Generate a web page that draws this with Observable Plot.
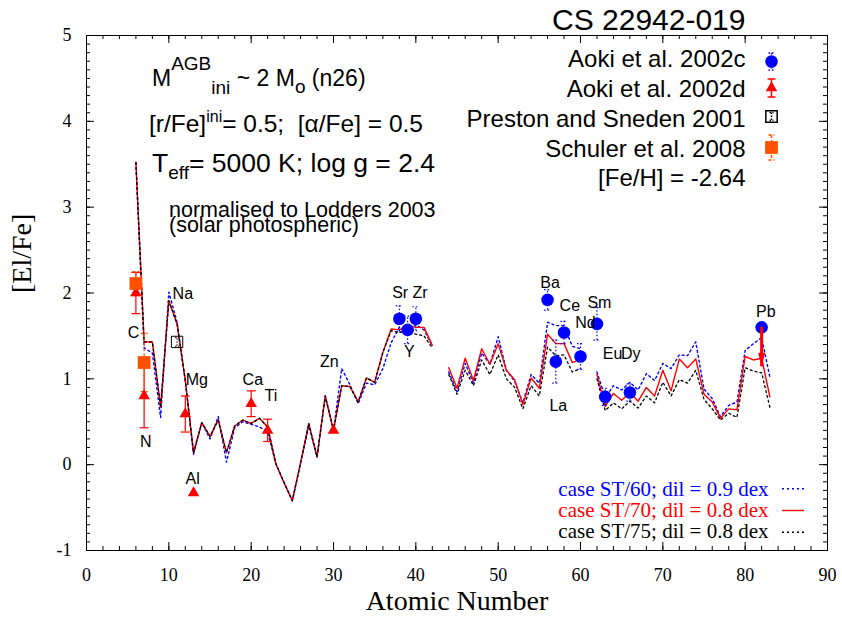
<!DOCTYPE html>
<html>
<head>
<meta charset="utf-8">
<script src="https://cdn.jsdelivr.net/npm/d3@7"></script>
<script src="https://cdn.jsdelivr.net/npm/@observablehq/plot@0.6"></script>
<style>
html,body{margin:0;padding:0;background:#fff;}
#chart svg{display:block;}
</style>
</head>
<body>
<div id="chart"></div>
<script>
// ---------------- data ----------------
const atomicNumber = [6,7,8,9,10,11,12,13,14,15,16,17,18,19,20,21,22,23,24,25,26,27,28,29,30,31,32,33,34,35,36,37,38,39,40,41,42,43,44,45,46,47,48,49,50,51,52,53,54,55,56,57,58,59,60,61,62,63,64,65,66,67,68,69,70,71,72,73,74,75,76,77,78,79,80,81,82,83];

// case ST/60; dil = 0.9 dex (blue dotted)
const caseST60 = [3.52,1.36,1.30,0.55,2.01,1.66,0.98,0.12,0.49,0.30,0.56,0.03,0.43,0.50,0.47,0.44,0.38,0.01,-0.21,-0.42,0.02,0.45,0.09,0.80,0.40,1.12,0.93,0.71,0.95,0.93,1.12,1.42,1.60,1.55,1.63,1.57,1.38,null,1.08,0.85,1.18,0.95,1.30,1.17,1.49,1.10,0.97,0.72,1.05,0.95,1.66,1.62,1.62,1.38,1.35,null,1.08,0.78,0.92,0.87,0.96,0.87,1.06,0.98,1.18,1.12,1.28,1.27,1.43,0.88,0.77,0.56,0.69,0.73,1.33,1.41,1.48,1.02];
// case ST/70; dil = 0.8 dex (red solid)
const caseST70 = [3.52,1.43,1.43,0.67,1.91,1.64,0.98,0.14,0.49,0.33,0.52,0.14,0.45,0.52,0.48,0.54,0.44,0.01,-0.21,-0.42,0.02,0.48,0.09,0.80,0.40,0.92,0.91,0.73,1.01,0.96,1.31,1.58,1.57,1.62,1.60,1.60,1.39,null,1.13,0.89,1.24,0.98,1.35,1.17,1.41,1.10,0.99,0.70,1.01,0.89,1.52,1.41,1.41,1.19,1.23,null,1.05,0.68,0.83,0.75,0.84,0.74,0.90,0.80,1.10,0.86,1.23,1.13,1.23,0.82,0.73,0.54,0.65,0.64,1.26,1.22,1.24,0.79];
// case ST/75; dil = 0.8 dex (black dotted)
const caseST75 = [3.52,1.43,1.43,0.67,1.91,1.64,0.98,0.14,0.49,0.33,0.52,0.14,0.45,0.52,0.48,0.54,0.44,0.01,-0.21,-0.42,0.02,0.48,0.09,0.80,0.40,0.92,0.91,0.73,1.01,0.96,1.31,1.56,1.54,1.55,1.52,1.50,1.36,null,1.05,0.82,1.10,0.92,1.22,1.05,1.28,1.00,0.90,0.65,0.92,0.80,1.37,1.27,1.28,1.08,1.12,null,1.00,0.63,0.72,0.65,0.74,0.66,0.80,0.72,0.96,0.80,0.99,0.95,1.10,0.76,0.65,0.52,0.60,0.55,1.13,1.09,1.07,0.67];

// Aoki et al. 2002c (blue circles)
const aoki2002cZ   = [38,39,40,56,57,58,60,62,63,66,82];
const aoki2002cVal = [1.70,1.57,1.70,1.92,1.20,1.54,1.26,1.64,0.79,0.84,1.60];
const aoki2002cErr = [0.15,0.16,0.14,0.12,0.25,0.13,0.15,0.19,0.10,0.10,0];

// Aoki et al. 2002d (red triangles)
const aoki2002dZ   = [6,7,12,13,20,22,30];
const aoki2002dVal = [2.00,0.80,0.59,-0.33,0.71,0.40,0.40];
const aoki2002dErr = [0.24,0.37,0.21,0,0.15,0.13,0];
// Pb upper limit (Aoki et al. 2002d)
const pbLimitZ = [82];
const pbLimitFrom = [1.60];
const pbLimitTo = [1.14];

// Preston and Sneden 2001 (open square)
const prestonZ = [11];
const prestonVal = [1.43];
const prestonErr = [0.05];

// Schuler et al. 2008 (orange squares)
const schulerZ = [6,7];
const schulerVal = [2.11,1.19];
const schulerErr = [0.14,0.34];

// element labels (anchor in data units)
const labelText = ["C","N","Na","Mg","Al","Ca","Ti","Zn","Sr","Zr","Y","Ba","Ce","Nd","Sm","La","Eu","Dy","Pb"];
const labelZ    = [5.7,7.2,11.7,13.4,12.9,20.2,22.4,29.5,38.1,40.5,39.2,56.3,58.7,60.6,62.3,57.3,63.9,66.1,82.5];
const labelVal  = [1.54,0.26,1.99,0.99,-0.17,0.99,0.80,1.20,2.00,2.00,1.31,2.12,1.85,1.65,1.88,0.69,1.29,1.29,1.78];

// axis ticks
const xTicks = [0,10,20,30,40,50,60,70,80,90];
const xMinor = d3.range(0, 91, 2);
const yTicks = [-1,0,1,2,3,4,5];
const yMinor = d3.range(-1, 5.001, 0.1).map(v => +v.toFixed(1));

const legendNames = ["Aoki et al. 2002c","Aoki et al. 2002d","Preston and Sneden 2001","Schuler et al. 2008","[Fe/H] = -2.64"];
const caseNames = ["case ST/60; dil = 0.9 dex","case ST/70; dil = 0.8 dex","case ST/75; dil = 0.8 dex"];

// ---------------- build ----------------
const sans = "'Liberation Sans', Arial, Helvetica, sans-serif";
const serif = "'Liberation Serif', 'Times New Roman', Times, serif";
const BLUE = "#0000ff", RED = "#ff0000", ORANGE = "#ff5000";

const W = 842, H = 620, mL = 86, mR = 15, mT = 35, mB = 70;
const innerW = W - mL - mR, innerH = H - mT - mB;

const rows = arr => atomicNumber.map((z, i) => ({z, v: arr[i]}));
const pts = (zs, vs, es) => zs.map((z, i) => ({z, v: vs[i], e: es ? es[i] : 0}));

const aokiC = pts(aoki2002cZ, aoki2002cVal, aoki2002cErr);
const aokiD = pts(aoki2002dZ, aoki2002dVal, aoki2002dErr);
const preston = pts(prestonZ, prestonVal, prestonErr);
const schuler = pts(schulerZ, schulerVal, schulerErr);
const pbLimit = pbLimitZ.map((z, i) => ({z, from: pbLimitFrom[i], to: pbLimitTo[i]}));
const labels = labelText.map((t, i) => ({t, z: labelZ[i], v: labelVal[i]}));

const capSym = {draw(ctx, size) { const w = Math.sqrt(size / Math.PI); ctx.moveTo(-w, 0); ctx.lineTo(w, 0); }};
const headSym = {draw(ctx, size) { const s = Math.sqrt(size / Math.PI); ctx.moveTo(-s * 0.5, -s); ctx.lineTo(s * 0.5, -s); ctx.lineTo(0, s); ctx.closePath(); }};
const vbar = (h, c) => ({draw(ctx) { ctx.moveTo(0, -h); ctx.lineTo(0, h); ctx.moveTo(-c, -h); ctx.lineTo(c, -h); ctx.moveTo(-c, h); ctx.lineTo(c, h); }});
const hseg = w => ({draw(ctx) { ctx.moveTo(-w, 0); ctx.lineTo(w, 0); }});

function errMarks(data, stroke, dash, capR, sw) {
  const d = data.filter(p => p.e > 0);
  return [
    Plot.ruleX(d, {x: "z", y1: p => p.v - p.e, y2: p => p.v + p.e, stroke, strokeDasharray: dash, strokeWidth: sw}),
    Plot.dot(d, {x: "z", y: p => p.v + p.e, symbol: capSym, r: capR, stroke, fill: "none", strokeDasharray: dash, strokeWidth: sw}),
    Plot.dot(d, {x: "z", y: p => p.v - p.e, symbol: capSym, r: capR, stroke, fill: "none", strokeDasharray: dash, strokeWidth: sw})
  ];
}

// legend layout (pixels relative to frame corner)
const legTextDy = [31, 61, 91, 121, 150];
const legSymDy = [26, 52.5, 81, 112];
const caseTextDy = [-55, -33.5, -13];
const caseSymDy = [-61.7, -40, -18.3];
const caseStyles = [
  {stroke: BLUE, dash: "2,3"},
  {stroke: RED, dash: null},
  {stroke: "black", dash: "2,3"}
];

const TR = {frameAnchor: "top-right"};
const BR = {frameAnchor: "bottom-right"};

const marks = [
  Plot.frame({stroke: "black", strokeWidth: 1}),
  // ticks (inward, all four sides)
  Plot.tickX(xTicks, {x: d => d, insetTop: innerH - 8, stroke: "black"}),
  Plot.tickX(xMinor, {x: d => d, insetTop: innerH - 4, stroke: "black"}),
  Plot.tickX(xTicks, {x: d => d, insetBottom: innerH - 8, stroke: "black"}),
  Plot.tickX(xMinor, {x: d => d, insetBottom: innerH - 4, stroke: "black"}),
  Plot.tickY(yTicks, {y: d => d, insetRight: innerW - 8, stroke: "black"}),
  Plot.tickY(yMinor, {y: d => d, insetRight: innerW - 4, stroke: "black"}),
  Plot.tickY(yTicks, {y: d => d, insetLeft: innerW - 8, stroke: "black"}),
  Plot.tickY(yMinor, {y: d => d, insetLeft: innerW - 4, stroke: "black"}),
  Plot.axisX({ticks: xTicks, tickSize: 0, tickPadding: 18, tickFormat: d => String(d), label: null, fontSize: 18, fontFamily: serif}),
  Plot.axisY({ticks: yTicks, tickSize: 0, tickPadding: 15, tickFormat: d => String(d), label: null, fontSize: 18, fontFamily: serif}),
  Plot.text(["Atomic Number"], {text: d => d, frameAnchor: "bottom", dy: 59, fontSize: 28, fontFamily: serif, fill: "black"}),
  Plot.text(["[El/Fe]"], {text: d => d, frameAnchor: "left", rotate: -90, dx: -64, fontSize: 28, fontFamily: serif, fill: "black"}),

  // model curves
  Plot.line(rows(caseST60), {x: "z", y: "v", stroke: BLUE, strokeWidth: 1.4, strokeDasharray: "2,3"}),
  Plot.line(rows(caseST70), {x: "z", y: "v", stroke: RED, strokeWidth: 1.4}),
  Plot.line(rows(caseST75), {x: "z", y: "v", stroke: "black", strokeWidth: 1.3, strokeDasharray: "2,3"}),

  // error bars
  ...errMarks(aokiC, BLUE, "1.5,2", 3.5, 1.2),
  ...errMarks(aokiD, RED, null, 4.5, 1.2),
  ...errMarks(schuler, ORANGE, "3,2", 3.5, 1.2),
  ...errMarks(preston, "black", "1.5,1.5", 2, 1),

  // observations
  Plot.dot(aokiC, {x: "z", y: "v", r: 6.3, fill: BLUE, symbol: "circle"}),
  Plot.dot(aokiD, {x: "z", y: "v", r: 4.3, fill: RED, symbol: "triangle"}),
  Plot.dot(schuler, {x: "z", y: "v", r: 7.2, fill: ORANGE, symbol: "square"}),
  Plot.dot(preston, {x: "z", y: "v", r: 6.4, fill: "none", stroke: "black", strokeWidth: 1, symbol: "square"}),
  Plot.ruleX(pbLimit, {x: "z", y1: "from", y2: "to", stroke: RED, strokeWidth: 3}),
  Plot.dot(pbLimit, {x: "z", y: "to", dy: -7, r: 7, symbol: headSym, fill: RED}),

  // element labels
  Plot.text(labels, {x: "z", y: "v", text: "t", fontSize: 16, fontFamily: sans, fill: "black"}),

  // title
  Plot.text(["CS 22942-019"], {text: d => d, ...TR, textAnchor: "end", lineAnchor: "bottom", dx: -82, dy: -6, fontSize: 30, fontFamily: sans, fill: "black"}),

  // top-right legend texts
  ...legendNames.map((n, i) => Plot.text([n], {text: d => d, ...TR, textAnchor: "end", lineAnchor: "bottom", dx: -82, dy: legTextDy[i], fontSize: 24, fontFamily: sans, fill: "black"})),
  // legend symbols
  Plot.dot([0], {...TR, dx: -56, dy: legSymDy[0], symbol: vbar(8.5, 3), stroke: BLUE, fill: "none", strokeDasharray: "1.5,2"}),
  Plot.dot([0], {...TR, dx: -56, dy: legSymDy[0], r: 6.3, symbol: "circle", fill: BLUE}),
  Plot.dot([0], {...TR, dx: -56, dy: legSymDy[1], symbol: vbar(9, 4), stroke: RED, fill: "none"}),
  Plot.dot([0], {...TR, dx: -56, dy: legSymDy[1], r: 4.3, symbol: "triangle", fill: RED}),
  Plot.dot([0], {...TR, dx: -56, dy: legSymDy[2], r: 6.4, symbol: "square", fill: "none", stroke: "black"}),
  Plot.dot([0], {...TR, dx: -56, dy: legSymDy[2], symbol: vbar(4, 2), stroke: "black", fill: "none", strokeDasharray: "1.5,1.5"}),
  Plot.dot([0], {...TR, dx: -56, dy: legSymDy[3], symbol: vbar(12.5, 3), stroke: ORANGE, fill: "none", strokeDasharray: "3,2"}),
  Plot.dot([0], {...TR, dx: -56, dy: legSymDy[3], r: 7.2, symbol: "square", fill: ORANGE}),

  // bottom-right model legend
  ...caseNames.map((n, i) => Plot.text([n], {text: d => d, ...BR, textAnchor: "end", lineAnchor: "bottom", dx: -59, dy: caseTextDy[i], fontSize: 21, fontFamily: serif, fill: caseStyles[i].stroke})),
  ...caseNames.map((n, i) => Plot.dot([0], {...BR, dx: -34.5, dy: caseSymDy[i], symbol: hseg(11), stroke: caseStyles[i].stroke, fill: "none", strokeWidth: 1.4, strokeDasharray: caseStyles[i].dash}))
];

const svg = Plot.plot({
  width: W, height: H,
  marginLeft: mL, marginRight: mR, marginTop: mT, marginBottom: mB,
  x: {domain: [0, 90], axis: null},
  y: {domain: [-1, 5], axis: null},
  style: {fontFamily: serif, fontSize: "18px", background: "white", overflow: "visible"},
  marks
});

// annotations with super/subscripts
function richText(x, y, parts, size, scriptSize) {
  const t = d3.select(svg).append("text")
    .attr("x", x).attr("y", y)
    .attr("text-anchor", "start")
    .attr("font-family", sans).attr("font-size", size).attr("fill", "black")
    .style("white-space", "pre");
  let shift = 0;
  for (const [s, mode, off] of parts) {
    const target = mode === "sup" ? -off : mode === "sub" ? off : 0;
    t.append("tspan").attr("dy", target - shift).attr("font-size", mode ? scriptSize : size).text(s);
    shift = target;
  }
}
richText(152, 86, [["M"], ["AGB", "sup", 16], ["ini", "sub", 8], [" ~ 2 M"], ["o", "sub", 7], [" (n26)"]], 23, 19);
richText(149, 131.5, [["[r/Fe]"], ["ini", "sup", 10], ["= 0.5;  [α/Fe] = 0.5"]], 24.5, 16);
richText(152, 172, [["T"], ["eff", "sub", 7], ["= 5000 K; log g = 2.4"]], 26.5, 19);
richText(169, 216.5, [["normalised to Lodders 2003"]], 21.5, 15);
richText(169, 231.5, [["(solar photospheric)"]], 21.5, 15);

document.getElementById("chart").appendChild(svg);
</script>
</body>
</html>
